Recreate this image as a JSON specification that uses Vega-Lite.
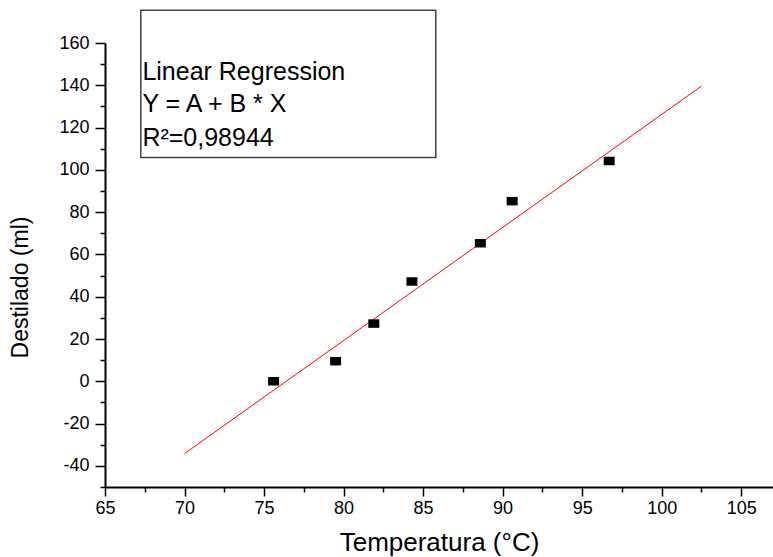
{
  "$schema": "https://vega.github.io/schema/vega-lite/v6.json",
  "width": 668,
  "height": 444,
  "autosize": {"type": "none"},
  "padding": {"left": 105, "top": 43, "right": 0, "bottom": 70},
  "background": "white",
  "config": {
    "view": {"stroke": null},
    "axis": {"grid": false, "domainColor": "black", "tickColor": "black", "labelColor": "black", "titleColor": "black", "labelFont": "Liberation Sans", "titleFont": "Liberation Sans", "titleFontWeight": "normal"}
  },
  "datasets": {
    "points": [
      {"temp": 75.6, "dest": 0},
      {"temp": 79.5, "dest": 9.5},
      {"temp": 81.9, "dest": 27.3},
      {"temp": 84.3, "dest": 47.2},
      {"temp": 88.6, "dest": 65.3},
      {"temp": 90.6, "dest": 85.2},
      {"temp": 96.7, "dest": 104.2}
    ],
    "fit": [
      {"temp": 70, "dest": -34.2},
      {"temp": 102.5, "dest": 139.6}
    ],
    "box": [
      {"x1": 67.25, "x2": 85.8, "y1": 175.5, "y2": 105.8}
    ],
    "labels": [
      {"x": 67.35, "y": 146.4, "txt": "Linear Regression"},
      {"x": 67.35, "y": 131.2, "txt": "Y = A + B * X"},
      {"x": 67.35, "y": 115.3, "txt": "R²=0,98944"}
    ]
  },
  "resolve": {"axis": {"x": "independent", "y": "independent"}},
  "layer": [
    {
      "data": {"name": "box"},
      "mark": {"type": "rect", "fill": "white", "stroke": "#444", "strokeWidth": 1.5},
      "encoding": {
        "x": {"field": "x1", "type": "quantitative", "scale": {"domain": [65, 107], "nice": false, "zero": false}, "axis": null},
        "x2": {"field": "x2"},
        "y": {"field": "y1", "type": "quantitative", "scale": {"domain": [-50, 160], "nice": false, "zero": false}, "axis": null},
        "y2": {"field": "y2"}
      }
    },
    {
      "data": {"name": "labels"},
      "mark": {"type": "text", "align": "left", "baseline": "middle", "font": "Liberation Sans", "fontSize": 25, "color": "black"},
      "encoding": {
        "x": {"field": "x", "type": "quantitative", "axis": null},
        "y": {"field": "y", "type": "quantitative", "axis": null},
        "text": {"field": "txt"}
      }
    },
    {
      "data": {"name": "fit"},
      "mark": {"type": "line", "color": "#ff0000", "strokeWidth": 1},
      "encoding": {
        "x": {"field": "temp", "type": "quantitative", "axis": {"orient": "bottom", "values": [67.5, 72.5, 77.5, 82.5, 87.5, 92.5, 97.5, 102.5], "labels": false, "domain": false, "tickSize": 5, "tickWidth": 1.5, "title": null}},
        "y": {"field": "dest", "type": "quantitative", "axis": {"orient": "left", "values": [-50, -30, -10, 10, 30, 50, 70, 90, 110, 130, 150], "labels": false, "domain": false, "tickSize": 5, "tickWidth": 1.5, "title": null}}
      }
    },
    {
      "data": {"name": "points"},
      "mark": {"type": "point", "shape": "M-1.1,-0.85L1.1,-0.85L1.1,0.85L-1.1,0.85Z", "filled": true, "color": "black", "opacity": 1, "size": 100},
      "encoding": {
        "x": {"field": "temp", "type": "quantitative", "title": "Temperatura (°C)",
          "axis": {"orient": "bottom", "values": [65, 70, 75, 80, 85, 90, 95, 100, 105], "labelFlush": false, "labelOverlap": false, "tickSize": 9, "tickWidth": 1.5, "domainWidth": 2, "labelFontSize": 18, "labelPadding": 3, "titleFontSize": 26, "titlePadding": 12}},
        "y": {"field": "dest", "type": "quantitative", "title": "Destilado (ml)",
          "axis": {"orient": "left", "values": [-40, -20, 0, 20, 40, 60, 80, 100, 120, 140, 160], "labelFlush": false, "labelOverlap": false, "labelExpr": "datum.value < 0 ? '-' + abs(datum.value) : '' + datum.value", "tickSize": 10, "tickWidth": 1.5, "domainWidth": 2, "labelFontSize": 18, "labelPadding": 6, "titleFontSize": 23, "titleX": -85, "titleY": 244, "titleBaseline": "middle", "titleAlign": "center", "titleAngle": -90}}
      }
    }
  ]
}
